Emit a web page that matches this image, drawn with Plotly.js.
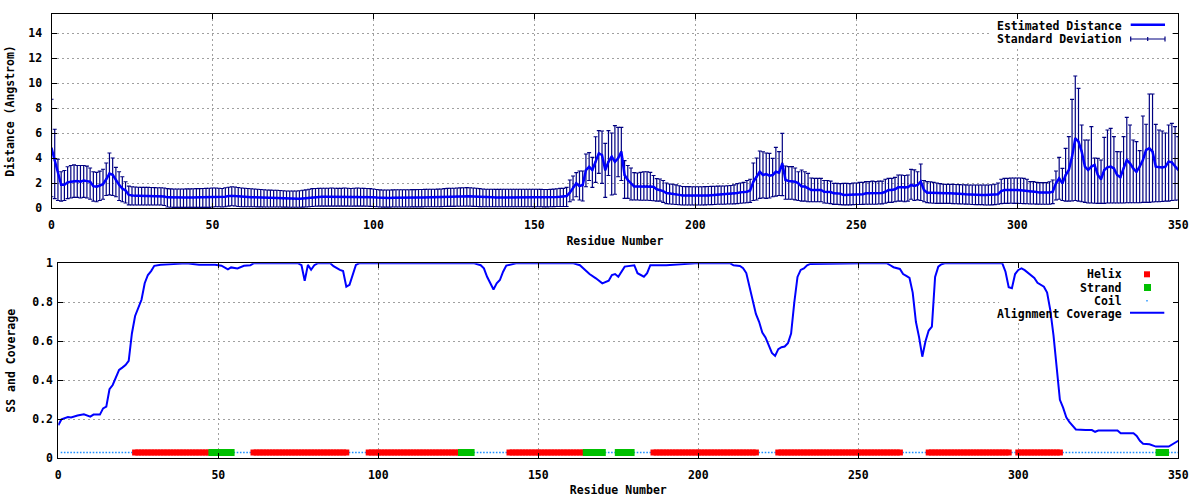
<!DOCTYPE html>
<html><head><meta charset="utf-8">
<script src="https://cdn.plot.ly/plotly-3.0.1.min.js"></script>
<style>html,body{margin:0;padding:0;background:#fff}#chart{width:1200px;height:500px}</style>
</head><body><div id="chart"></div>
<script>
// ---- Top panel: estimated distance per residue (0..350) ----
const distance = [
4.8,3.8,2.8,1.85,1.85,2.05,2.1,2.15,2.15,2.1,
2.2,2.15,2.1,1.75,1.7,1.8,1.9,2.3,2.75,2.65,
2.2,1.85,1.55,1.4,1.05,0.98,0.97,0.97,0.96,0.96,
0.96,0.95,0.95,0.95,0.95,0.92,0.85,0.84,0.83,0.83,
0.83,0.83,0.83,0.84,0.84,0.84,0.84,0.85,0.86,0.86,
0.88,0.88,0.88,0.87,0.9,0.95,0.97,0.96,0.93,0.9,
0.88,0.87,0.86,0.85,0.84,0.83,0.82,0.8,0.8,0.8,
0.78,0.77,0.75,0.74,0.73,0.73,0.72,0.73,0.75,0.78,
0.82,0.86,0.88,0.9,0.9,0.9,0.9,0.91,0.9,0.9,
0.9,0.91,0.9,0.89,0.9,0.91,0.9,0.9,0.89,0.88,
0.86,0.84,0.82,0.8,0.8,0.8,0.81,0.82,0.82,0.82,
0.82,0.82,0.83,0.83,0.83,0.83,0.84,0.84,0.84,0.84,
0.85,0.86,0.88,0.9,0.9,0.9,0.91,0.92,0.92,0.93,
0.93,0.92,0.9,0.88,0.86,0.85,0.85,0.85,0.84,0.84,
0.85,0.85,0.85,0.85,0.85,0.85,0.85,0.85,0.85,0.85,
0.85,0.85,0.84,0.83,0.83,0.84,0.86,0.88,0.9,0.9,
0.96,1.22,1.65,1.97,1.76,1.84,3.04,3.3,3.04,3.7,
4.37,4.24,3.04,3.7,4.11,3.7,3.97,4.5,2.64,2.24,
1.97,1.71,1.71,1.71,1.75,1.76,1.76,1.7,1.5,1.44,
1.35,1.2,1.17,1.15,1.1,1.05,1.0,0.99,0.99,0.98,
0.97,0.97,0.98,0.99,1.0,1.02,1.05,1.08,1.1,1.12,
1.12,1.12,1.15,1.2,1.25,1.27,1.3,1.4,2.1,2.5,
2.9,2.64,2.72,2.59,2.64,2.9,2.83,3.57,2.24,2.16,
2.16,2.1,1.97,1.71,1.71,1.57,1.44,1.44,1.44,1.44,
1.3,1.3,1.28,1.17,1.17,1.15,1.04,1.04,1.05,1.09,
1.09,1.1,1.1,1.17,1.17,1.2,1.17,1.2,1.2,1.3,
1.44,1.44,1.5,1.65,1.65,1.6,1.65,1.84,1.76,1.84,
2.11,1.44,1.22,1.22,1.2,1.2,1.2,1.17,1.17,1.17,
1.17,1.15,1.15,1.12,1.1,1.08,1.05,1.04,1.04,1.04,
1.04,1.04,1.05,1.08,1.1,1.35,1.44,1.44,1.45,1.44,
1.44,1.42,1.4,1.38,1.31,1.31,1.28,1.23,1.23,1.23,
1.23,1.3,1.97,2.37,1.97,2.64,3.04,4.11,5.57,5.31,
4.51,3.31,3.04,3.31,3.44,2.64,2.3,3.04,3.25,3.31,
3.17,2.64,2.45,3.17,3.84,3.57,3.17,2.9,3.31,3.84,
4.64,4.77,4.51,3.31,3.25,3.25,3.3,3.71,3.65,3.31,3.04];

// upper end of each standard-deviation bar
const sdHigh = [
8.7,6.3,3.9,2.9,3.0,3.3,3.4,3.45,3.4,3.4,
3.4,3.35,3.2,2.9,2.85,2.95,3.1,3.6,4.4,4.0,
3.25,2.9,2.5,2.1,1.75,1.7,1.68,1.66,1.65,1.65,
1.65,1.64,1.63,1.62,1.62,1.6,1.55,1.53,1.52,1.52,
1.52,1.52,1.53,1.53,1.54,1.55,1.55,1.56,1.57,1.58,
1.6,1.6,1.58,1.56,1.62,1.66,1.7,1.68,1.64,1.6,
1.58,1.56,1.54,1.52,1.5,1.48,1.46,1.44,1.43,1.42,
1.42,1.4,1.38,1.36,1.36,1.36,1.36,1.38,1.42,1.45,
1.5,1.55,1.56,1.57,1.58,1.58,1.58,1.6,1.58,1.57,
1.57,1.6,1.58,1.56,1.58,1.6,1.58,1.57,1.56,1.55,
1.52,1.48,1.45,1.44,1.44,1.44,1.45,1.46,1.46,1.46,
1.46,1.46,1.47,1.47,1.48,1.48,1.49,1.5,1.5,1.5,
1.51,1.52,1.55,1.57,1.58,1.58,1.6,1.61,1.62,1.63,
1.62,1.6,1.58,1.55,1.52,1.5,1.5,1.5,1.49,1.49,
1.5,1.5,1.5,1.5,1.5,1.5,1.5,1.5,1.5,1.5,
1.5,1.5,1.49,1.48,1.48,1.49,1.51,1.54,1.57,1.57,
1.65,2.24,2.56,2.83,2.96,2.96,4.32,4.43,4.05,5.7,
6.19,6.16,5.17,6.19,6.0,6.59,6.45,6.45,3.79,3.4,
3.2,2.83,2.8,2.85,2.9,2.9,2.85,2.6,2.35,2.32,
2.2,2.0,1.92,1.9,1.85,1.78,1.72,1.71,1.71,1.7,
1.7,1.7,1.7,1.71,1.72,1.73,1.74,1.75,1.76,1.76,
1.78,1.8,1.85,1.95,2.0,2.05,2.2,2.3,3.6,4.0,
4.56,4.5,4.4,4.37,3.97,4.85,4.51,5.97,3.36,3.31,
3.31,3.2,2.9,3.04,2.9,2.77,2.4,2.37,2.37,2.37,
2.2,2.2,2.15,1.97,1.97,1.95,1.97,1.97,1.95,2.0,
2.0,2.05,2.05,2.11,2.11,2.15,2.11,2.15,2.15,2.3,
2.37,2.37,2.45,2.64,2.64,2.6,2.64,3.09,3.05,2.9,
3.52,2.2,2.11,2.1,2.05,2.0,1.95,1.9,1.89,1.89,
1.89,1.88,1.87,1.86,1.85,1.84,1.84,1.84,1.84,1.84,
1.84,1.84,1.86,1.9,2.0,2.3,2.37,2.37,2.4,2.4,
2.4,2.4,2.37,2.3,2.11,2.11,2.05,2.03,2.03,2.03,
2.1,2.24,2.96,4.05,3.17,4.77,5.71,8.69,10.56,9.57,
6.64,5.44,5.44,6.51,4.0,3.97,3.84,5.65,6.24,6.37,
5.71,4.51,4.5,5.71,7.25,6.64,5.44,5.31,4.59,7.36,
6.7,9.12,9.12,6.69,6.24,6.16,6.0,6.64,6.77,6.51,5.71];

// lower end of each standard-deviation bar
const sdLow = [
0.9,0.75,0.6,0.55,0.6,0.75,0.8,0.85,0.85,0.8,
0.85,0.8,0.7,0.55,0.5,0.6,0.7,1.0,1.05,1.0,
0.9,0.6,0.5,0.4,0.25,0.24,0.24,0.24,0.24,0.24,
0.24,0.24,0.24,0.24,0.24,0.2,0.08,0.06,0.05,0.05,
0.05,0.05,0.05,0.05,0.05,0.05,0.05,0.05,0.05,0.05,
0.08,0.1,0.1,0.08,0.1,0.15,0.18,0.16,0.12,0.1,
0.1,0.1,0.1,0.1,0.09,0.09,0.08,0.08,0.08,0.08,
0.08,0.08,0.07,0.07,0.06,0.06,0.06,0.06,0.07,0.08,
0.1,0.12,0.14,0.15,0.15,0.15,0.15,0.15,0.15,0.15,
0.15,0.15,0.15,0.14,0.15,0.15,0.15,0.15,0.14,0.13,
0.12,0.1,0.08,0.07,0.07,0.07,0.08,0.08,0.08,0.08,
0.08,0.08,0.09,0.09,0.09,0.09,0.1,0.1,0.1,0.1,
0.1,0.11,0.12,0.13,0.13,0.13,0.14,0.14,0.14,0.14,
0.14,0.13,0.12,0.11,0.1,0.1,0.1,0.1,0.1,0.1,
0.1,0.1,0.1,0.1,0.1,0.1,0.1,0.1,0.1,0.1,
0.1,0.1,0.1,0.09,0.09,0.1,0.11,0.12,0.12,0.12,
0.12,0.5,0.64,0.9,0.64,0.56,1.7,2.2,1.65,2.05,
2.77,1.97,0.85,2.6,1.04,1.1,2.5,2.2,0.77,0.77,
0.64,0.64,0.64,0.62,0.62,0.62,0.6,0.58,0.55,0.55,
0.45,0.35,0.32,0.3,0.28,0.26,0.24,0.24,0.24,0.24,
0.24,0.24,0.24,0.25,0.26,0.27,0.28,0.3,0.3,0.3,
0.32,0.32,0.33,0.35,0.38,0.4,0.42,0.45,0.6,0.64,
0.77,0.8,0.77,0.8,0.9,0.95,1.0,0.99,0.7,0.7,
0.7,0.65,0.6,0.55,0.55,0.5,0.5,0.5,0.5,0.5,
0.4,0.38,0.35,0.29,0.29,0.27,0.25,0.25,0.25,0.27,
0.28,0.28,0.29,0.3,0.3,0.3,0.3,0.32,0.33,0.38,
0.45,0.45,0.5,0.55,0.55,0.5,0.55,0.7,0.6,0.65,
0.6,0.5,0.43,0.4,0.38,0.37,0.37,0.37,0.37,0.37,
0.35,0.34,0.33,0.32,0.31,0.3,0.28,0.27,0.27,0.27,
0.24,0.24,0.25,0.27,0.3,0.35,0.37,0.37,0.38,0.37,
0.37,0.36,0.35,0.34,0.32,0.32,0.31,0.3,0.3,0.3,
0.3,0.35,0.64,0.7,0.6,0.55,0.55,0.56,0.6,0.55,
0.5,0.45,0.4,0.4,0.38,0.37,0.37,0.37,0.4,0.4,
0.4,0.4,0.4,0.4,0.42,0.42,0.42,0.42,0.42,0.45,
0.45,0.45,0.48,0.5,0.5,0.52,0.55,0.55,0.6,0.62,0.64];

// ---- Bottom panel: alignment coverage ----
const coverageResidue = [0,1,3,4,6,8,10,11,13,14,15,16,17,18,19,20,21,22,23,24,25,26,27,28,29,30,32,36,40,42,44,49,51,53,54,56,58,60,61,75,76,77,78,79,80,81,85,86,87,88,89,90,91,92,93,94,105,106,110,111,130,132,133,134,135,136,137,138,139,140,143,161,163,164,166,168,170,172,173,174,175,177,179,180,181,183,184,185,190,195,199,210,211,213,214,215,216,217,218,219,220,221,222,223,224,225,226,227,228,229,230,231,232,233,234,235,251,259,260,261,263,264,265,266,267,268,269,270,271,272,273,274,275,276,277,295,296,297,298,299,300,301,302,303,305,306,308,309,310,311,312,313,314,315,316,317,318,321,323,324,325,331,332,336,337,338,339,341,343,347,348,349,350];
const coverage = [0.17,0.2,0.212,0.209,0.219,0.226,0.214,0.224,0.224,0.256,0.265,0.354,0.376,0.419,0.453,0.465,0.478,0.5,0.64,0.73,0.77,0.813,0.898,0.94,0.96,0.987,0.992,0.995,1.0,0.997,0.993,0.993,0.988,0.969,0.979,0.974,0.987,0.99,1.0,1.0,0.99,0.91,0.992,0.967,0.99,1.0,1.0,0.985,0.975,0.966,0.96,0.88,0.89,0.942,0.992,1.0,1.0,0.997,0.997,1.0,1.0,0.99,0.974,0.931,0.897,0.866,0.897,0.914,0.957,0.988,1.0,1.0,0.99,0.974,0.945,0.923,0.897,0.911,0.94,0.945,0.931,0.983,0.986,0.99,0.949,0.931,0.949,0.99,0.99,0.995,1.0,1.0,0.99,0.986,0.975,0.95,0.88,0.8,0.74,0.7,0.645,0.62,0.58,0.54,0.525,0.56,0.57,0.573,0.59,0.64,0.8,0.93,0.966,0.974,0.99,0.997,1.0,1.0,0.99,0.98,0.971,0.945,0.935,0.925,0.85,0.7,0.62,0.521,0.6,0.655,0.675,0.93,0.983,0.995,1.0,1.0,0.957,0.877,0.872,0.945,0.966,0.974,0.965,0.95,0.925,0.9,0.88,0.85,0.76,0.63,0.45,0.3,0.26,0.21,0.185,0.165,0.148,0.145,0.145,0.136,0.142,0.142,0.128,0.128,0.115,0.09,0.075,0.072,0.06,0.06,0.07,0.08,0.09];

// ---- Secondary structure segments (residue ranges) ----
const ssStart = [24, 48, 61, 97, 126, 141, 165, 175, 186, 225, 272, 300, 344];
const ssEnd   = [47, 54, 90, 125, 129, 164, 170, 179, 218, 263, 297, 313, 346];
const ssType  = ['Helix','Strand','Helix','Helix','Strand','Helix','Strand','Strand','Helix','Helix','Helix','Helix','Strand'];
const ssFirstResidue = 1, ssLastResidue = 350;
const ssLevel = 0.03;

const tickX = [0,50,100,150,200,250,300,350];
const tickYTop = [0,2,4,6,8,10,12,14];
const tickYBot = [0,0.2,0.4,0.6,0.8,1];
const tickYBotText = ['0','0.2','0.4','0.6','0.8','1'];

// ---- build per-residue arrays ----
const residues = distance.map((_, i) => i);
const errPlus = sdHigh.map((h, i) => +(h - distance[i]).toFixed(3));
const errMinus = sdLow.map((l, i) => +(distance[i] - l).toFixed(3));

const ssX = {Helix: [], Strand: [], Coil: []};
for (let r = ssFirstResidue; r <= ssLastResidue; r++) {
  let t = 'Coil';
  for (let k = 0; k < ssStart.length; k++) if (r >= ssStart[k] && r <= ssEnd[k]) t = ssType[k];
  ssX[t].push(r);
}
const lvl = arr => arr.map(() => ssLevel);

const BLUE = '#0000ff', NAVY = '#000080', RED = '#ff0000', GREEN = '#00c000', COIL = '#1e90ff';
const FONT = {family: 'DejaVu Sans Mono, monospace', size: 11.5, color: '#000', weight: 'bold'};

const traces = [
  {x: residues, y: distance, type: 'scatter', mode: 'markers', xaxis: 'x', yaxis: 'y',
   marker: {size: 2, color: NAVY},
   error_y: {type: 'data', symmetric: false, array: errPlus, arrayminus: errMinus, color: NAVY, thickness: 1.2, width: 2},
   showlegend: false, name: 'Standard Deviation'},
  {x: residues, y: distance, type: 'scatter', mode: 'lines', xaxis: 'x', yaxis: 'y',
   line: {color: BLUE, width: 2.5}, showlegend: false, name: 'Estimated Distance'},
  {x: ssX.Coil, y: lvl(ssX.Coil), type: 'scatter', mode: 'markers', xaxis: 'x2', yaxis: 'y2',
   marker: {symbol: 'square', size: 1.6, color: COIL, line: {width: 0}}, showlegend: false, name: 'Coil'},
  {x: ssX.Helix, y: lvl(ssX.Helix), type: 'scatter', mode: 'markers', xaxis: 'x2', yaxis: 'y2',
   marker: {symbol: 'square', size: 6, color: RED, line: {width: 0}}, showlegend: false, name: 'Helix'},
  {x: ssX.Strand, y: lvl(ssX.Strand), type: 'scatter', mode: 'markers', xaxis: 'x2', yaxis: 'y2',
   marker: {symbol: 'square', size: 7, color: GREEN, line: {width: 0}}, showlegend: false, name: 'Strand'},
  {x: coverageResidue, y: coverage, type: 'scatter', mode: 'lines', xaxis: 'x2', yaxis: 'y2',
   line: {color: BLUE, width: 2}, showlegend: false, name: 'Alignment Coverage'}
];

// pixel -> paper helpers for the key
const W = 1200, H = 500;
const px = v => v / W, py = v => 1 - v / H;

const axisCommon = {
  showline: true, linecolor: '#000', linewidth: 1, mirror: 'ticks',
  ticks: 'inside', ticklen: 5, tickcolor: '#000', tickwidth: 1,
  showgrid: true, gridcolor: '#a0a0a0', gridwidth: 1, griddash: '2px,3px',
  zeroline: false, tickfont: FONT, fixedrange: true
};

const layout = {
  width: W, height: H, margin: {l: 0, r: 0, t: 0, b: 0},
  paper_bgcolor: '#fff', plot_bgcolor: '#fff', font: FONT, showlegend: false,
  xaxis: Object.assign({}, axisCommon, {domain: [51.5/W, 1178.3/W], range: [0, 350], anchor: 'y',
    tickmode: 'array', tickvals: tickX, ticklabelstandoff: 6,
    title: {text: 'Residue Number', font: FONT, standoff: 6}}),
  yaxis: Object.assign({}, axisCommon, {domain: [1 - 208/H, 1 - 14/H], range: [0, 15.52], anchor: 'x',
    tickmode: 'array', tickvals: tickYTop, ticklabelstandoff: 6,
    title: {text: 'Distance (Angstrom)', font: FONT, standoff: 11}}),
  xaxis2: Object.assign({}, axisCommon, {domain: [58.3/W, 1178.3/W], range: [0, 350], anchor: 'y2',
    tickmode: 'array', tickvals: tickX, ticklabelstandoff: 6,
    title: {text: 'Residue Number', font: FONT, standoff: 4}}),
  yaxis2: Object.assign({}, axisCommon, {domain: [1 - 458.3/H, 1 - 263.3/H], range: [0, 1], anchor: 'x2',
    tickmode: 'array', tickvals: tickYBot, ticktext: tickYBotText, ticklabelstandoff: 2,
    title: {text: 'SS and Coverage', font: FONT, standoff: 14}}),
  shapes: [
    // opaque key boxes (hide grid, stay under data)
    {type: 'rect', xref: 'x', yref: 'y', x0: 291.5, x1: 348, y0: 12.95, y1: 15.2, layer: 'between', fillcolor: '#fff', line: {width: 0}},
    {type: 'rect', xref: 'x2', yref: 'y2', x0: 294, x1: 347.5, y0: 0.70, y1: 0.995, layer: 'between', fillcolor: '#fff', line: {width: 0}},
    // top key samples
    {type: 'line', xref: 'paper', yref: 'paper', x0: px(1130.7), x1: px(1165), y0: py(24.7), y1: py(24.7), line: {color: BLUE, width: 2.5}},
    {type: 'line', xref: 'paper', yref: 'paper', x0: px(1130.7), x1: px(1165), y0: py(39), y1: py(39), line: {color: NAVY, width: 1.2}},
    {type: 'line', xref: 'paper', yref: 'paper', x0: px(1130.7), x1: px(1130.7), y0: py(36.5), y1: py(41.5), line: {color: NAVY, width: 1.2}},
    {type: 'line', xref: 'paper', yref: 'paper', x0: px(1165), x1: px(1165), y0: py(36.5), y1: py(41.5), line: {color: NAVY, width: 1.2}},
    {type: 'line', xref: 'paper', yref: 'paper', x0: px(1147.7), x1: px(1147.7), y0: py(37), y1: py(41), line: {color: NAVY, width: 1.2}},
    // bottom key samples
    {type: 'rect', xref: 'paper', yref: 'paper', x0: px(1144), x1: px(1150), y0: py(277.3), y1: py(271.3), fillcolor: RED, line: {width: 0}},
    {type: 'rect', xref: 'paper', yref: 'paper', x0: px(1144), x1: px(1151), y0: py(291), y1: py(284), fillcolor: GREEN, line: {width: 0}},
    {type: 'rect', xref: 'paper', yref: 'paper', x0: px(1146.3), x1: px(1147.7), y0: py(301.5), y1: py(300.1), fillcolor: COIL, line: {width: 0}},
    {type: 'line', xref: 'paper', yref: 'paper', x0: px(1130), x1: px(1164.3), y0: py(312.7), y1: py(312.7), line: {color: BLUE, width: 2}}
  ],
  annotations: [
    ['Estimated Distance', 25.7], ['Standard Deviation', 39],
    ['Helix', 274.3], ['Strand', 287.7], ['Coil', 301], ['Alignment Coverage', 313.5]
  ].map(([t, y]) => ({text: t, xref: 'paper', yref: 'paper', x: px(1124), y: py(y),
    xanchor: 'right', yanchor: 'middle', showarrow: false, font: FONT}))
};

Plotly.newPlot('chart', traces, layout, {staticPlot: true, displayModeBar: false});
</script></body></html>
